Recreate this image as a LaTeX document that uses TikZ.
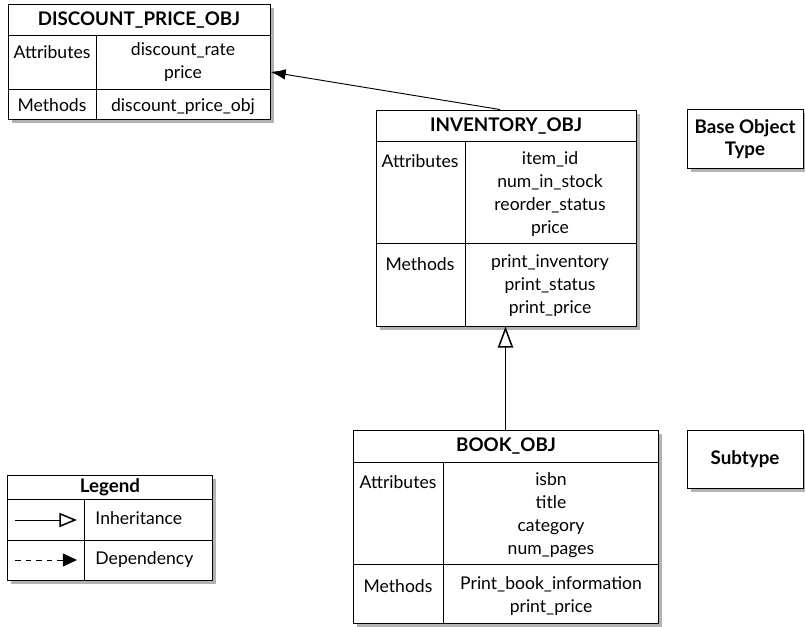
\documentclass[tikz,border=0pt]{standalone}
\usepackage{fontspec}
\setmainfont{Lato}
\usetikzlibrary{arrows.meta,shadows,fit,calc}

\tikzset{
  boite/.style={draw, fill=white, inner sep=0pt,
    drop shadow={shadow xshift=3pt, shadow yshift=-3pt, fill=black!30, opacity=1}},
  titre/.style={font=\bfseries\fontsize{16}{19}\selectfont},
  texte/.style={font=\fontsize{15}{19.6}\selectfont, align=center, inner sep=0pt,
    anchor=north, execute at begin node=\strut},
  herite/.style={-{Triangle[open, fill=white, length=18pt, width=13pt, line width=1.3pt]}},
  depend/.style={-{Latex[length=13pt, width=9pt]}},
}

\begin{document}
\begin{tikzpicture}[x=0.03cm, y=-0.03cm, line width=0.8pt]
  \useasboundingbox (0,0) rectangle (805,627);

  % objet remise
  \node[boite, fit={(8,4) (270,119)}] (remise) {};
  \draw (8,35) -- (270,35);
  \draw (8,89) -- (270,89);
  \draw (96,35) -- (96,119);
  \node[titre] (remise-titre) at (139,20) {DISCOUNT\_PRICE\_OBJ};
  \node[texte] (remise-a) at (52,42) {Attributes};
  \node[texte] (remise-al) at (183,42) {discount\_rate\\price};
  \node[texte] (remise-m) at (52,95) {Methods};
  \node[texte] (remise-ml) at (183,95) {discount\_price\_obj};

  % objet stock
  \node[boite, fit={(376,110) (636,326)}] (stock) {};
  \draw (376,141) -- (636,141);
  \draw (376,243) -- (636,243);
  \draw (465,141) -- (465,326);
  \node[titre] (stock-titre) at (506,126) {INVENTORY\_OBJ};
  \node[texte] (stock-a) at (420,151) {Attributes};
  \node[texte] (stock-al) at (550,151) {item\_id\\num\_in\_stock\\reorder\_status\\price};
  \node[texte] (stock-m) at (420,254) {Methods};
  \node[texte] (stock-ml) at (550,254) {print\_inventory\\print\_status\\print\_price};

  % objet livre
  \node[boite, fit={(353,430) (658,623)}] (livre) {};
  \draw (353,462) -- (658,462);
  \draw (353,564) -- (658,564);
  \draw (443,462) -- (443,623);
  \node[titre] (livre-titre) at (506,446) {BOOK\_OBJ};
  \node[texte] (livre-a) at (398,472) {Attributes};
  \node[texte] (livre-al) at (551,472) {isbn\\title\\category\\num\_pages};
  \node[texte] (livre-m) at (398,576) {Methods};
  \node[texte] (livre-ml) at (551,576) {Print\_book\_information\\print\_price};

  % types
  \node[boite, fit={(687,109) (803,168)}] (base) {};
  \node[titre, align=center] (base-t) at (745,139) {Base Object\\Type};
  \node[boite, fit={(687,430) (803,488)}] (sous) {};
  \node[titre] (sous-t) at (745,459) {Subtype};

  % liens
  \draw[depend] ($(stock.north)+(-6,0)$) -- ($(remise.north east)!0.59!(remise.south east)$);
  \draw[herite] (livre.north) -- (livre.north |- stock.south);

  % legende
  \node[boite, fit={(7,475) (212,580)}] (legende) {};
  \draw (7,499) -- (212,499);
  \draw (7,540) -- (212,540);
  \draw (84,499) -- (84,580);
  \node[titre] (legende-t) at (110,487) {Legend};
  \coordinate (h1) at (15,520);
  \coordinate (h2) at (77,520);
  \coordinate (d1) at (15,560);
  \coordinate (d2) at (77,560);
  \draw[-{Triangle[open, fill=white, length=15pt, width=12pt, line width=1.3pt]}] (h1) -- (h2);
  \draw[-{Triangle[length=12pt, width=11pt]}, dash pattern=on 5pt off 4pt] (d1) -- (d2);
  \node[texte, anchor=west] (legende-h) at (95,520) {Inheritance};
  \node[texte, anchor=west] (legende-d) at (95,560) {Dependency};
\end{tikzpicture}
\end{document}
